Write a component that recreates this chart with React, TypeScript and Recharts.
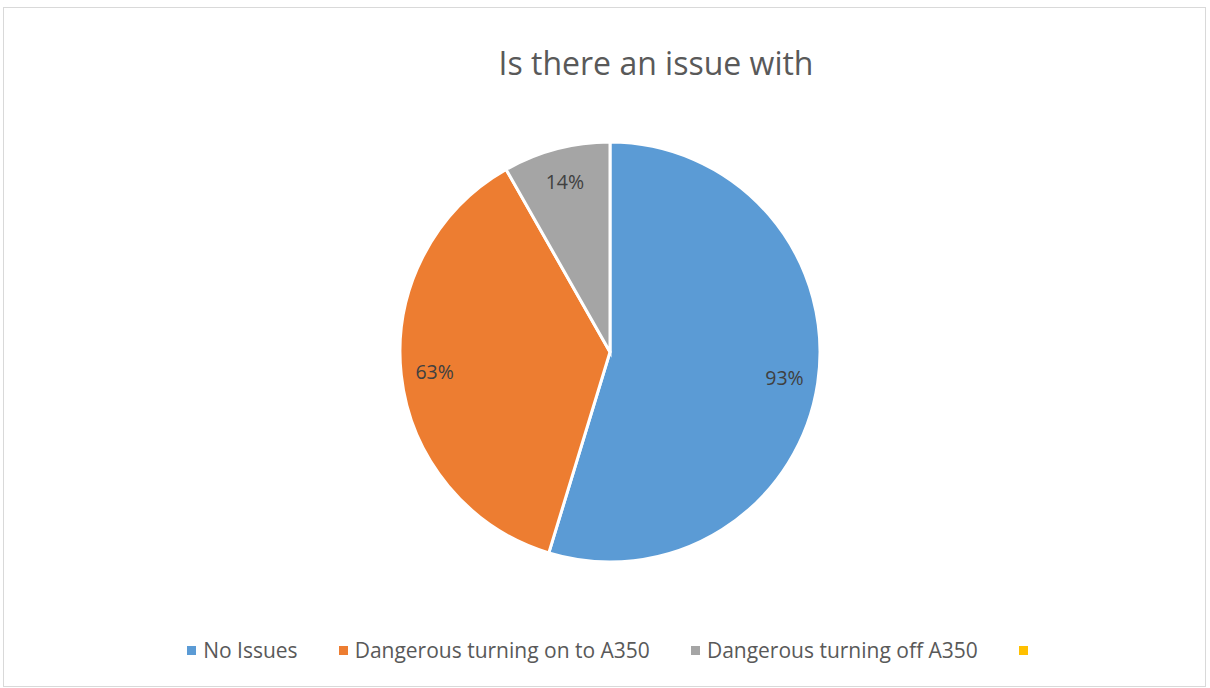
import React from "react";
import { PieChart, Pie, Cell, Legend } from "recharts";

// series
const labels = ["No Issues", "Dangerous turning on to A350", "Dangerous turning off A350", ""];
const values = [93, 63, 14, 0];
const COLORS = ["#5B9BD5", "#ED7D31", "#A5A5A5", "#FFC000"];
const TITLE = "Is there an issue with";

const data = labels.map((name, i) => ({ name, value: values[i] }));

const RADIAN = Math.PI / 180;

const renderLabel = (props: any) => {
    const { cx, cy, midAngle, outerRadius, value } = props;
    if (!value) return null;
    const r = outerRadius * 0.84;
    const x = cx + r * Math.cos(-midAngle * RADIAN);
    const y = cy + r * Math.sin(-midAngle * RADIAN);
    return (
        <text x={x} y={y} fill="#404040" fontSize={19.5} fontFamily="'Open Sans', sans-serif" textAnchor="middle" dominantBaseline="central">
            {value}%
        </text>
    );
};

const renderLegend = () => (
    <div style={{ display: "flex", justifyContent: "center", alignItems: "center", fontFamily: "'Open Sans', sans-serif", fontSize: 21, color: "#595959" }}>
        {labels.map((name, i) => (
            <div key={i} style={{ display: "flex", alignItems: "center", marginRight: i < labels.length - 1 ? 41 : 0 }}>
                <span style={{ display: "inline-block", width: 9, height: 9, background: COLORS[i], marginRight: 7 }} />
                {name && <span>{name}</span>}
            </div>
        ))}
    </div>
);

export default function App() {
    return (
        <div style={{ position: "absolute", left: 0, top: 0, width: 1210, height: 688, background: "#fff" }}>
            {/* chart border */}
            <div style={{ position: "absolute", left: 3, top: 7, width: 1203, height: 680, border: "1px solid #D9D9D9", boxSizing: "border-box" }} />
            <div style={{ position: "absolute", left: 0, top: 41, width: 1312, textAlign: "center", fontFamily: "'Open Sans', sans-serif", fontSize: 32, color: "#595959" }}>
                {TITLE}
            </div>
            <div style={{ position: "absolute", left: 0, top: 0 }}>
                <PieChart width={1220} height={688} margin={{ top: 0, right: 0, bottom: 0, left: 0 }}>
                    <Pie
                        data={data}
                        cx={610}
                        cy={352}
                        outerRadius={210}
                        startAngle={90}
                        endAngle={-270}
                        dataKey="value"
                        stroke="#fff"
                        strokeWidth={3}
                        label={renderLabel}
                        labelLine={false}
                        isAnimationActive={false}
                    >
                        {data.map((entry, index) => (
                            <Cell key={`cell-${index}`} fill={COLORS[index % COLORS.length]} />
                        ))}
                    </Pie>
                    <Legend content={renderLegend} wrapperStyle={{ left: 0, top: 636, width: 1222 }} />
                </PieChart>
            </div>
        </div>
    );
}
